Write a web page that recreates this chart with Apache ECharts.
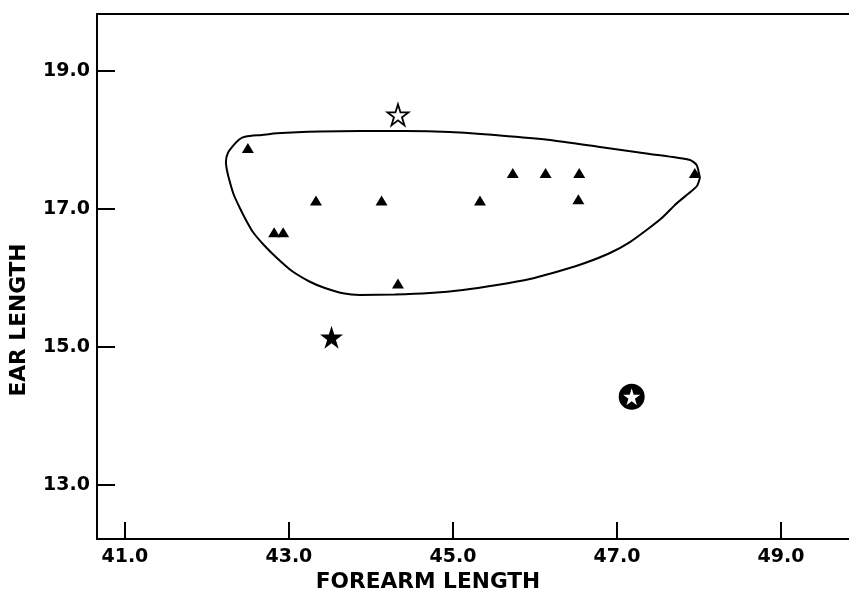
<!DOCTYPE html>
<html>
<head>
<meta charset="utf-8">
<script src="https://cdn.jsdelivr.net/npm/echarts@6/dist/echarts.min.js"></script>
<style>
html,body{margin:0;padding:0;background:#fff;}
#chart{width:849px;height:594px;}
</style>
</head>
<body>
<div id="chart"></div>
<script>
// ---- data ----
var xTicks = [41, 43, 45, 47, 49];
var yTicks = [13, 15, 17, 19];
var triangles = [
  [42.50, 17.88], [42.82, 16.66], [42.93, 16.66], [43.33, 17.12],
  [44.13, 17.12], [44.33, 15.92], [45.33, 17.12], [45.73, 17.52],
  [46.13, 17.52], [46.54, 17.52], [46.53, 17.14], [47.95, 17.52]
];
var openStar = [[44.33, 18.36]];
var filledStar = [[43.52, 15.14]];
var circledStar = [[47.18, 14.28]];
var outline = [
  [48.012, 17.446], [47.976, 17.330], [47.866, 17.214], [47.720, 17.070],
  [47.561, 16.881], [47.378, 16.707], [47.159, 16.519], [46.915, 16.360],
  [46.610, 16.215], [46.341, 16.114], [45.939, 15.983], [45.537, 15.896],
  [45.122, 15.824], [44.720, 15.781], [44.293, 15.759], [43.866, 15.752],
  [43.659, 15.776], [43.439, 15.853], [43.256, 15.944], [43.037, 16.099],
  [42.854, 16.287], [42.695, 16.476], [42.561, 16.664], [42.476, 16.838],
  [42.402, 17.012], [42.329, 17.200], [42.280, 17.388], [42.244, 17.562],
  [42.232, 17.678], [42.256, 17.808], [42.329, 17.924], [42.402, 18.011],
  [42.476, 18.047], [42.671, 18.069], [42.854, 18.093], [43.378, 18.119],
  [43.866, 18.127], [44.415, 18.127], [44.963, 18.112], [45.573, 18.062],
  [46.183, 17.996], [46.793, 17.895], [47.402, 17.794], [47.890, 17.707],
  [47.972, 17.634], [48.012, 17.446]
];
var xTitle = 'FOREARM LENGTH';
var yTitle = 'EAR LENGTH';

// ---- chart ----
var STAR = 'path://M50 0 L61.23 34.55 L97.55 34.55 L68.17 55.9 L79.39 90.45 L50 69.1 L20.61 90.45 L31.83 55.9 L2.45 34.55 L38.77 34.55 Z';
var FONT = '"DejaVu Sans", sans-serif';
var chart = echarts.init(document.getElementById('chart'), null, {renderer: 'canvas'});
var axisLineStyle = {color: '#000', width: 2};
chart.setOption({
  animation: false,
  backgroundColor: '#fff',
  grid: {left: 97, right: 0, top: 14, bottom: 55, containLabel: false},
  xAxis: [{
    type: 'value', min: 40.66, max: 49.83,
    axisLine: {show: true, onZero: false, lineStyle: axisLineStyle},
    axisTick: {show: true, inside: true, length: 17, lineStyle: {color: '#000', width: 2}, customValues: xTicks},
    axisLabel: {customValues: xTicks, formatter: function (v) { return v.toFixed(1); },
      fontFamily: FONT, fontWeight: 'bold', fontSize: 19, color: '#000', margin: 9},
    splitLine: {show: false}
  }, {
    type: 'value', min: 40.66, max: 49.83, position: 'top',
    axisLine: {show: true, onZero: false, lineStyle: axisLineStyle},
    axisTick: {show: false}, axisLabel: {show: false}, splitLine: {show: false}
  }],
  yAxis: [{
    type: 'value', min: 12.22, max: 19.82,
    axisLine: {show: true, onZero: false, lineStyle: axisLineStyle},
    axisTick: {show: true, inside: true, length: 18, lineStyle: {color: '#000', width: 2}, customValues: yTicks},
    axisLabel: {customValues: yTicks, formatter: function (v) { return v.toFixed(1); },
      fontFamily: FONT, fontWeight: 'bold', fontSize: 19, color: '#000', margin: 7},
    splitLine: {show: false}
  }],
  graphic: [
    {type: 'text', x: 428, y: 582, silent: true,
      style: {text: xTitle, font: 'bold 21.7px ' + FONT, fill: '#000', align: 'center', verticalAlign: 'middle'}},
    {type: 'text', x: 19, y: 320, rotation: Math.PI / 2, silent: true,
      style: {text: yTitle, font: 'bold 21.7px ' + FONT, fill: '#000', align: 'center', verticalAlign: 'middle'}}
  ],
  series: [
    {type: 'line', data: outline, smooth: 0.2, showSymbol: false, silent: true,
      lineStyle: {color: '#000', width: 2}, z: 2},
    {type: 'scatter', data: triangles, symbol: 'triangle', symbolSize: [12, 10],
      itemStyle: {color: '#000', opacity: 1}, z: 3},
    {type: 'scatter', data: openStar, symbol: STAR, symbolSize: 21,
      itemStyle: {color: '#fff', borderColor: '#000', borderWidth: 1.8, opacity: 1}, z: 3},
    {type: 'scatter', data: filledStar, symbol: STAR, symbolSize: 23,
      itemStyle: {color: '#000', opacity: 1}, z: 3},
    {type: 'scatter', data: circledStar, symbol: 'circle', symbolSize: 26,
      itemStyle: {color: '#000', opacity: 1}, z: 3},
    {type: 'scatter', data: circledStar, symbol: STAR, symbolSize: 17,
      itemStyle: {color: '#fff', opacity: 1}, z: 4}
  ]
});
</script>
</body>
</html>
